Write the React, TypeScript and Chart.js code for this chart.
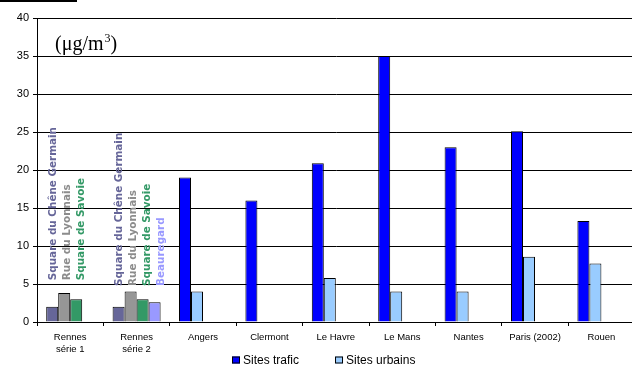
import React, { useEffect, useRef } from "react";
import { Chart, registerables } from "chart.js";

Chart.register(...registerables);

const categories: (string | string[])[] = [
  ["Rennes", "série 1"],
  ["Rennes", "série 2"],
  "Angers",
  "Clermont",
  "Le Havre",
  "Le Mans",
  "Nantes",
  "Paris (2002)",
  "Rouen",
];

const chene = [2.0, 2.0, null, null, null, null, null, null, null];
const lyonnais = [3.8, 4.0, null, null, null, null, null, null, null];
const savoie = [3.0, 3.0, null, null, null, null, null, null, null];
const beauregard = [null, 2.6, null, null, null, null, null, null, null];
const trafic = [null, null, 19.0, 16.0, 20.9, 35.0, 23.0, 25.1, 13.3];
const urbains = [null, null, 4.0, null, 5.8, 4.0, 4.0, 8.6, 7.7];

// value at which the vertical Rennes site names start (per category)
const siteLabelAnchor = [5.5, 4.75];

const yMin = 0;
const yMax = 40;
const yStep = 5;

const unitText = "(μg/m";
const unitSup = "3";
const unitClose = ")";

const SANS = "'Liberation Sans', Arial, sans-serif";
const SERIF = "'Liberation Serif', 'Times New Roman', serif";
const LABEL_FONT = "bold 10.4px 'DejaVu Sans', Verdana, sans-serif";

const overlayPlugin = {
  id: "overlay",
  afterDatasetsDraw(chart: any) {
    const ctx = chart.ctx;
    const yScale = chart.scales.y;
    const area = chart.chartArea;
    ctx.save();

    // Vertical site names above Rennes bars
    ctx.font = LABEL_FONT;
    chart.data.datasets.forEach((ds: any, di: number) => {
      if (!ds.siteLabel) return;
      const meta = chart.getDatasetMeta(di);
      ds.data.forEach((v: any, i: number) => {
        if (v === null || v === undefined) return;
        const bar = meta.data[i];
        if (!bar) return;
        const x = bar.x + ds.labelSlot * 2 + 1;
        const y = yScale.getPixelForValue(siteLabelAnchor[i]);
        ctx.save();
        ctx.translate(x, y);
        ctx.rotate(-Math.PI / 2);
        ctx.fillStyle = ds.labelColor;
        ctx.textAlign = "left";
        ctx.textBaseline = "middle";
        ctx.fillText(ds.label, 0, 0);
        ctx.restore();
      });
    });

    // Unit label
    const ux = area.left + 18;
    const uy = area.top + 32;
    ctx.fillStyle = "#000";
    ctx.textAlign = "left";
    ctx.textBaseline = "alphabetic";
    ctx.font = `20px ${SERIF}`;
    ctx.fillText(unitText, ux, uy);
    const w = ctx.measureText(unitText).width;
    ctx.font = `12px ${SERIF}`;
    ctx.fillText(unitSup, ux + w + 1, uy - 8);
    const w2 = ctx.measureText(unitSup).width;
    ctx.font = `20px ${SERIF}`;
    ctx.fillText(unitClose, ux + w + w2 + 1, uy);

    // top-left rule
    ctx.fillRect(0, 0, 77, 2);

    // Legend (only the two site series)
    const legendItems = chart.data.datasets.filter((d: any) => d.inLegend);
    let lx = 232;
    const ly = 360;
    ctx.font = `12px ${SANS}`;
    ctx.textBaseline = "middle";
    legendItems.forEach((d: any) => {
      ctx.fillStyle = d.backgroundColor;
      ctx.fillRect(lx, ly - 3.5, 8, 7);
      ctx.strokeStyle = "#000";
      ctx.lineWidth = 1;
      ctx.strokeRect(lx + 0.5, ly - 3.5 + 0.5, 7, 6);
      ctx.fillStyle = "#000";
      ctx.fillText(d.label, lx + 11, ly + 0.5);
      lx += 11 + ctx.measureText(d.label).width + 36;
    });

    ctx.restore();
  },
};

export default function App() {
  const ref = useRef<HTMLCanvasElement | null>(null);

  useEffect(() => {
    if (!ref.current) return;
    const mk = (label: string, data: any[], color: string, stack: string, extra: any = {}) => ({
      label,
      data,
      backgroundColor: color,
      borderColor: "#000",
      borderWidth: 1,
      stack,
      categoryPercentage: 0.723,
      barPercentage: 1,
      ...extra,
    });
    const chart = new Chart(ref.current, {
      type: "bar",
      data: {
        labels: categories as any,
        datasets: [
          mk("Square du Chêne Germain", chene, "#666699", "a", { siteLabel: true, labelColor: "#666699", labelSlot: 0 }),
          mk("Sites trafic", trafic, "#0000FF", "a", { inLegend: true }),
          mk("Rue du Lyonnais", lyonnais, "#969696", "b", { siteLabel: true, labelColor: "#8c8c8c", labelSlot: 1 }),
          mk("Sites urbains", urbains, "#99CCFF", "b", { inLegend: true }),
          mk("Square de Savoie", savoie, "#339966", "c", { siteLabel: true, labelColor: "#339966", labelSlot: 2 }),
          mk("Beauregard", beauregard, "#9999FF", "d", { siteLabel: true, labelColor: "#9999FF", labelSlot: 3 }),
        ] as any,
      },
      options: {
        animation: false,
        responsive: false,
        devicePixelRatio: 1,
        layout: { padding: { top: 18, right: 5.4, bottom: 0, left: 0 } },
        plugins: {
          legend: { display: false },
          tooltip: { enabled: false },
        },
        scales: {
          x: {
            stacked: true,
            offset: true,
            grid: {
              display: true,
              drawOnChartArea: false,
              drawTicks: true,
              tickLength: 4,
              color: "#000",
              offset: true,
            },
            border: { display: true, color: "#000" },
            ticks: {
              color: "#000",
              font: { family: SANS, size: 9.5, lineHeight: 1.3 },
              padding: 5,
              maxRotation: 0,
              autoSkip: false,
            },
            afterFit: (s: any) => {
              s.height = 45;
            },
          },
          y: {
            stacked: true,
            min: yMin,
            max: yMax,
            ticks: {
              stepSize: yStep,
              color: "#000",
              font: { family: SANS, size: 11 },
              padding: 4,
            },
            grid: {
              color: "#000",
              lineWidth: 1,
              drawTicks: true,
              tickLength: 4,
            },
            border: { display: true, color: "#000" },
            afterFit: (s: any) => {
              s.width = 37;
            },
          },
        },
      },
      plugins: [overlayPlugin],
    });
    return () => chart.destroy();
  }, []);

  return (
    <div
      style={{
        position: "absolute",
        left: 0,
        top: 0,
        width: 632,
        height: 367,
        overflow: "hidden",
        background: "#fff",
      }}
    >
      <canvas ref={ref} width={640} height={367} style={{ width: 640, height: 367, display: "block" }} />
    </div>
  );
}
